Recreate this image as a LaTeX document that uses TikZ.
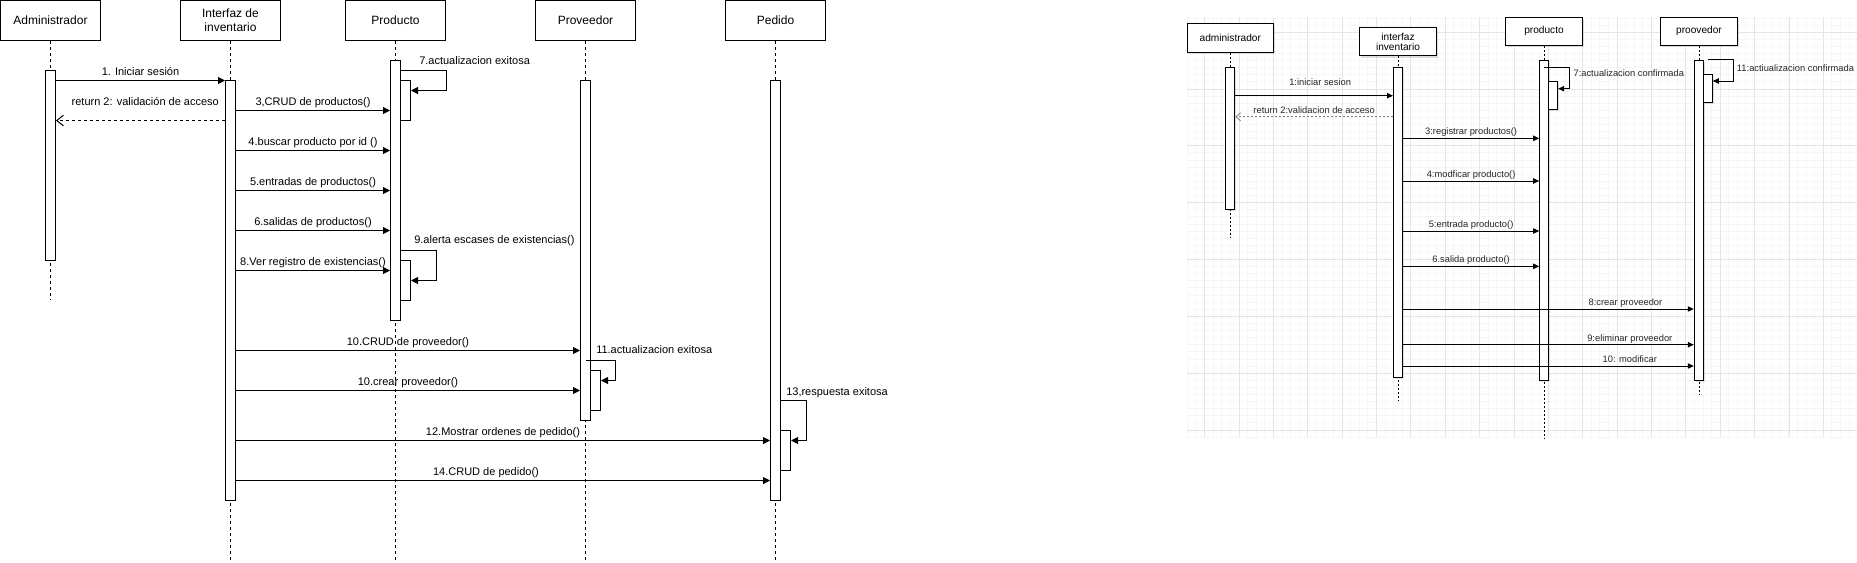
\documentclass[tikz,border=0pt]{standalone}
\usepackage{fontspec}
\setmainfont{Liberation Sans}
\usetikzlibrary{arrows.meta,shadows}
\begin{document}
\begin{tikzpicture}[x=0.75pt,y=-0.75pt,
obj/.style={draw, fill=white, line width=0.75pt, minimum width=75pt, minimum height=30pt, inner sep=0pt, align=center, font=\fontsize{9}{10.5}\selectfont},
act/.style={draw, fill=white, line width=0.75pt, minimum width=7.5pt, inner sep=0pt},
life/.style={line width=0.75pt, dash pattern=on 2.25pt off 2.25pt},
msg/.style={line width=0.75pt, -{Triangle[length=5.25pt,width=5.25pt]}},
ret/.style={life, -{Straight Barb[length=5pt,width=8pt]}},
lbl/.style={inner sep=0pt, text height=6pt, text depth=1.8pt, font=\fontsize{8.25}{9.9}\selectfont},
rshade/.style={drop shadow={shadow xshift=1.2pt, shadow yshift=-1.2pt, opacity=0.25}},
robj/.style={draw, fill=white, line width=0.75pt, inner sep=0pt, align=center, font=\fontsize{7.6}{7.1}\selectfont, rshade},
ract/.style={draw, fill=white, line width=0.75pt, minimum width=6.75pt, inner sep=0pt, rshade},
rlife/.style={line width=0.6pt, dash pattern=on 1.5pt off 1.5pt},
rmsg/.style={line width=0.75pt, -{Triangle[length=4.5pt,width=4pt]}},
rret/.style={rlife, gray, -{Straight Barb[length=3.5pt,width=6pt]}},
rlbl/.style={inner sep=0pt, text=black!85, text height=5pt, text depth=1.5pt, font=\fontsize{7}{8}\selectfont},
gminor/.style={gray!7, line width=0.75pt},
gmajor/.style={gray!20, line width=0.75pt}]
\useasboundingbox (0,0) rectangle (1857,562);
\foreach \k in {0,...,77} \draw[gminor] (1187.5+8.592*\k,17) -- (1187.5+8.592*\k,437);
\foreach \k in {0,...,59} \draw[gminor] (1187,18+7.104*\k) -- (1857,18+7.104*\k);
\foreach \k in {0,...,18} \draw[gmajor] (1204.7+34.37*\k,17) -- (1204.7+34.37*\k,437);
\foreach \k in {0,...,7} \draw[gmajor] (1187,32.2+56.83*\k) -- (1857,32.2+56.83*\k);
\node[obj] (adm) at (50.5,20.5) {Administrador};
\node[obj] (inv) at (230.5,20.5) {Interfaz de\\inventario};
\node[obj] (prod) at (395.5,20.5) {Producto};
\node[obj] (prov) at (585.5,20.5) {Proveedor};
\node[obj] (ped) at (775.5,20.5) {Pedido};
\draw[life] (adm) -- (adm |- 0,300);
\draw[life] (inv) -- (inv |- 0,562);
\draw[life] (prod) -- (prod |- 0,562);
\draw[life] (prov) -- (prov |- 0,562);
\draw[life] (ped) -- (ped |- 0,562);
\node[act, minimum height=142.5pt] (adm1) at (50.5,165.5) {};
\node[act, minimum height=315pt] (inv1) at (230.5,290.5) {};
\node[act, minimum height=195pt] (prod1) at (395.5,190.5) {};
\node[act, minimum height=30pt] (prod2) at (405.5,100.5) {};
\node[act, minimum height=30pt] (prod3) at (405.5,280.5) {};
\node[act, minimum height=255pt] (prov1) at (585.5,250.5) {};
\node[act, minimum height=30pt] (prov2) at (595.5,390.5) {};
\node[act, minimum height=315pt] (ped1) at (775.5,290.5) {};
\node[act, minimum height=30pt] (ped2) at (785.5,450.5) {};
\draw[msg] (adm1.east |- 0,80.5) -- node[lbl, midway, yshift=6.1pt] (t1) {1. Iniciar sesión} (inv1.west |- 0,80.5);
\draw[ret] (inv1.west |- 0,120.5) -- node[lbl, midway, xshift=3.6pt, yshift=13.1pt] (t2) {return 2: validación de acceso} (adm1.east |- 0,120.5);
\draw[msg] (inv1.east |- 0,110.5) -- node[lbl, midway, yshift=6.1pt] (t3) {3,CRUD de productos()} (prod1.west |- 0,110.5);
\draw[msg] (inv1.east |- 0,150.5) -- node[lbl, midway, yshift=6.1pt] (t4) {4.buscar producto por id ()} (prod1.west |- 0,150.5);
\draw[msg] (inv1.east |- 0,190.5) -- node[lbl, midway, yshift=6.1pt] (t5) {5.entradas de productos()} (prod1.west |- 0,190.5);
\draw[msg] (inv1.east |- 0,230.5) -- node[lbl, midway, yshift=6.1pt] (t6) {6.salidas de productos()} (prod1.west |- 0,230.5);
\draw[msg] (inv1.east |- 0,270.5) -- node[lbl, midway, yshift=6.1pt] (t8) {8.Ver registro de existencias()} (prod1.west |- 0,270.5);
\draw[msg] (prod1.east |- 0,70.5) -- ++(45,0) |- (prod2.east |- 0,90.5);
\node[lbl, anchor=west] (t7) at (419,62) {7.actualizacion exitosa};
\draw[msg] (prod1.east |- 0,250.5) -- ++(35,0) |- (prod3.east |- 0,280.5);
\node[lbl, anchor=west] (t9) at (414,241) {9.alerta escases de existencias()};
\draw[msg] (inv1.east |- 0,350.5) -- node[lbl, midway, yshift=6.1pt] (t10) {10.CRUD de proveedor()} (prov1.west |- 0,350.5);
\draw[msg] (inv1.east |- 0,390.5) -- node[lbl, midway, yshift=6.1pt] (t10b) {10.crear proveedor()} (prov1.west |- 0,390.5);
\draw[msg] (prov1 |- 0,360.5) -- ++(30,0) |- (prov2.east |- 0,380.5);
\node[lbl, anchor=west] (t11) at (596,351) {11.actualizacion exitosa};
\draw[msg] (inv1.east |- 0,440.5) -- node[lbl, midway, yshift=6.1pt] (t12) {12.Mostrar ordenes de pedido()} (ped1.west |- 0,440.5);
\draw[msg] (ped1.east |- 0,400.5) -- ++(25,0) |- (ped2.east |- 0,440.5);
\node[lbl, anchor=west] (t13) at (786,393) {13,respuesta exitosa};
\draw[msg] (inv1.east |- 0,480.5) -- node[lbl, midway, xshift=-12.75pt, yshift=6.1pt] (t14) {14.CRUD de pedido()} (ped1.west |- 0,480.5);
\node[robj, minimum width=64.5pt, minimum height=21.5pt] (radm) at (1230.3,38.3) {administrador};
\node[robj, minimum width=58pt, minimum height=21.2pt] (rinv) at (1398,41.8) {interfaz\\inventario};
\node[robj, minimum width=58pt, minimum height=21pt] (rprod) at (1544,31.3) {producto};
\node[robj, minimum width=58pt, minimum height=21pt] (rprov) at (1699,31.3) {proovedor};
\draw[rlife] (radm) -- (radm |- 0,238.3);
\draw[rlife] (rinv) -- (rinv |- 0,400.7);
\draw[rlife] (rprod) -- (rprod |- 0,438);
\draw[rlife] (rprov) -- (rprov |- 0,394);
\node[ract, minimum height=106.5pt] (radm1) at (1230.3,138.3) {};
\node[ract, minimum height=232.3pt] (rinv1) at (1398,222.2) {};
\node[ract, minimum height=240.2pt] (rprod1) at (1544.2,220.2) {};
\node[ract, minimum height=21.2pt] (rprod2) at (1553.2,95.2) {};
\node[ract, minimum height=240.2pt] (rprov1) at (1698.8,220.2) {};
\node[ract, minimum height=21pt] (rprov2) at (1707.8,88.3) {};
\draw[rmsg] (radm1.east |- 0,95.7) -- node[rlbl, midway, xshift=4.5pt, yshift=9.5pt] (r1) {1:iniciar sesion} (rinv1.west |- 0,95.7);
\draw[rret] (rinv1.west |- 0,116.7) -- node[rlbl, midway, yshift=4.3pt] (r2) {return 2:validacion de acceso} (radm1.east |- 0,116.7);
\draw[rmsg] (rinv1.east |- 0,138.3) -- node[rlbl, midway, yshift=4.3pt] (r3) {3:registrar productos()} (rprod1.west |- 0,138.3);
\draw[rmsg] (rinv1.east |- 0,181) -- node[rlbl, midway, yshift=4.3pt] (r4) {4:modficar producto()} (rprod1.west |- 0,181);
\draw[rmsg] (rinv1.east |- 0,231) -- node[rlbl, midway, yshift=4.3pt] (r5) {5:entrada producto()} (rprod1.west |- 0,231);
\draw[rmsg] (rinv1.east |- 0,266.3) -- node[rlbl, midway, yshift=4.3pt] (r6) {6.salida producto()} (rprod1.west |- 0,266.3);
\draw[rmsg] (rprod1 |- 0,67) -- ++(25.7,0) |- (rprod2.east |- 0,88.7);
\node[rlbl, anchor=west] (r7) at (1573.3,73.7) {7:actualizacion confirmada};
\draw[rmsg] (rinv1.east |- 0,309) -- node[rlbl, pos=0.765, yshift=4.3pt] (r8) {8:crear proveedor} (rprov1.west |- 0,309);
\draw[rmsg] (rinv1.east |- 0,344.7) -- node[rlbl, pos=0.78, yshift=4.3pt] (r9) {9:eliminar proveedor} (rprov1.west |- 0,344.7);
\draw[rmsg] (rinv1.east |- 0,366) -- node[rlbl, pos=0.78, yshift=4.3pt] (r10) {10: modificar} (rprov1.west |- 0,366);
\draw[rmsg] ([xshift=3pt]rprov1.north east) -- ++(26,0) |- (rprov2.east |- 0,81);
\node[rlbl, anchor=west] (r11) at (1736.7,69.3) {11:actiualizacion confirmada};
\end{tikzpicture}
\end{document}
